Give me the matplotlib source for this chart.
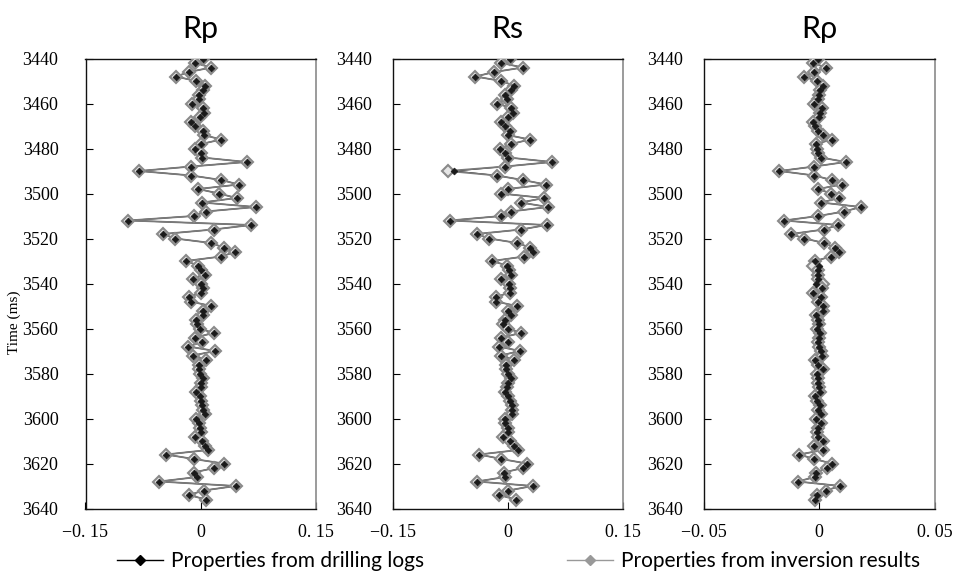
import matplotlib
matplotlib.use("Agg")
import matplotlib.pyplot as plt
from matplotlib.lines import Line2D

# Time samples (ms)
time_ms = list(range(3440, 3638, 2))

titles = ["Rp", "Rs", "Rρ"]
xlims = [(-0.15, 0.15), (-0.15, 0.15), (-0.05, 0.05)]
xtick_vals = [[-0.15, 0, 0.15], [-0.15, 0, 0.15], [-0.05, 0, 0.05]]
xtick_labels = [["−0. 15", "0", "0. 15"], ["−0. 15", "0", "0. 15"], ["−0. 05", "0", "0. 05"]]
ytick_vals = [3440, 3460, 3480, 3500, 3520, 3540, 3560, 3580, 3600, 3620, 3640]
legend_labels = ["Properties from drilling logs", "Properties from inversion results"]

rp_logs = [0.003, -0.007, 0.014, -0.015, -0.032, -0.006, 0.006, 0.003, -0.002, -0.002,
           -0.011, 0.003, 0.004, -0.001, -0.012, -0.007, 0.003, 0.004, 0.027, 0.001,
           -0.007, 0.001, 0.002, 0.060, -0.012, -0.080, -0.012, 0.027, 0.050, -0.003,
           0.024, 0.047, 0.002, 0.072, 0.007, -0.009, -0.094, 0.066, 0.017, -0.049,
           -0.033, 0.014, 0.030, 0.045, 0.027, -0.019, -0.003, 0.000, 0.006, -0.010,
           0.001, 0.003, 0.001, -0.015, -0.013, 0.014, 0.003, 0.003, -0.006, -0.004,
           -0.001, 0.017, -0.007, 0.002, -0.016, 0.019, -0.010, 0.007, -0.002, -0.002,
           -0.001, 0.003, 0.000, 0.000, -0.006, -0.001, 0.001, 0.002, 0.003, 0.006,
           -0.006, -0.002, -0.001, 0.001, -0.007, 0.002, 0.006, 0.010, -0.045, -0.009,
           0.030, 0.018, -0.009, -0.004, -0.054, 0.046, 0.004, -0.015, 0.007]
rp_inv = [0.003, -0.007, 0.014, -0.015, -0.032, -0.006, 0.006, 0.003, -0.002, -0.002,
          -0.011, 0.003, 0.004, -0.001, -0.012, -0.007, 0.003, 0.004, 0.027, 0.001,
          -0.007, 0.001, 0.002, 0.060, -0.012, -0.080, -0.012, 0.027, 0.050, -0.003,
          0.024, 0.047, 0.002, 0.072, 0.007, -0.009, -0.094, 0.066, 0.017, -0.049,
          -0.033, 0.014, 0.030, 0.045, 0.027, -0.019, -0.003, 0.000, 0.006, -0.010,
          0.001, 0.003, 0.001, -0.015, -0.013, 0.014, 0.003, 0.003, -0.006, -0.004,
          -0.001, 0.017, -0.007, 0.002, -0.016, 0.019, -0.010, 0.007, -0.002, -0.002,
          -0.001, 0.003, 0.000, 0.000, -0.006, -0.001, 0.001, 0.002, 0.003, 0.006,
          -0.006, -0.002, -0.001, 0.001, -0.007, 0.002, 0.006, 0.010, -0.045, -0.009,
          0.030, 0.018, -0.009, -0.004, -0.054, 0.046, 0.004, -0.015, 0.007]

rs_logs = [0.003, -0.008, 0.020, -0.017, -0.042, -0.008, 0.008, 0.005, -0.003, -0.001,
           -0.014, 0.005, 0.007, 0.000, -0.009, -0.003, 0.003, 0.000, 0.029, 0.005,
           -0.010, -0.003, 0.001, 0.058, -0.003, -0.070, -0.014, 0.020, 0.050, 0.000,
           -0.009, 0.048, 0.017, 0.053, 0.004, -0.008, -0.075, 0.051, 0.018, -0.040,
           -0.024, 0.013, 0.029, 0.033, 0.022, -0.020, -0.001, 0.002, 0.004, -0.008,
           0.002, 0.003, 0.003, -0.015, -0.015, 0.012, 0.000, 0.005, -0.003, -0.006,
           0.000, 0.018, -0.008, 0.000, -0.011, 0.016, -0.009, 0.009, -0.002, -0.002,
           0.000, 0.004, 0.001, -0.001, -0.003, 0.000, 0.003, 0.006, 0.006, 0.006,
           -0.003, -0.003, 0.000, 0.000, -0.006, 0.003, 0.008, 0.014, -0.037, -0.008,
           0.025, 0.020, -0.005, -0.003, -0.040, 0.033, 0.001, -0.011, 0.011]
rs_inv = [0.003, -0.008, 0.020, -0.017, -0.042, -0.008, 0.008, 0.005, -0.003, -0.001,
          -0.014, 0.005, 0.007, 0.000, -0.009, -0.003, 0.003, 0.000, 0.029, 0.005,
          -0.010, -0.003, 0.001, 0.058, -0.003, -0.078, -0.014, 0.020, 0.050, 0.000,
          -0.009, 0.048, 0.017, 0.053, 0.004, -0.008, -0.075, 0.051, 0.018, -0.040,
          -0.024, 0.013, 0.029, 0.033, 0.022, -0.020, -0.001, 0.002, 0.004, -0.008,
          0.002, 0.003, 0.003, -0.015, -0.015, 0.012, 0.000, 0.005, -0.003, -0.006,
          0.000, 0.018, -0.008, 0.000, -0.011, 0.016, -0.009, 0.009, -0.002, -0.002,
          0.000, 0.004, 0.001, -0.001, -0.003, 0.000, 0.003, 0.006, 0.006, 0.006,
          -0.003, -0.003, 0.000, 0.000, -0.006, 0.003, 0.008, 0.014, -0.037, -0.008,
          0.025, 0.020, -0.005, -0.003, -0.040, 0.033, 0.001, -0.011, 0.011]

rrho_logs = [-0.0003, -0.0025, 0.0029, -0.0020, -0.0065, -0.0010, 0.0019, 0.0004, 0.0001, -0.0006,
             -0.0020, 0.0012, 0.0004, 0.0001, -0.0025, -0.0017, -0.0006, 0.0019, 0.0055, -0.0013,
             -0.0010, -0.0003, 0.0007, 0.0116, -0.0020, -0.0171, -0.0020, 0.0055, 0.0098, -0.0003,
             0.0052, 0.0088, 0.0009, 0.0181, 0.0109, -0.0003, -0.0151, 0.0083, 0.0022, -0.0122,
             -0.0063, 0.0023, 0.0069, 0.0086, 0.0052, -0.0017, 0.0001, -0.0003, -0.0006, -0.0003,
             -0.0013, 0.0012, -0.0025, 0.0009, -0.0003, 0.0016, 0.0019, -0.0013, -0.0006, 0.0001,
             -0.0010, 0.0004, 0.0001, -0.0003, 0.0001, 0.0009, 0.0012, -0.0017, -0.0006, 0.0019,
             -0.0010, -0.0006, -0.0006, 0.0001, 0.0004, -0.0017, -0.0010, 0.0004, -0.0003, 0.0007,
             -0.0013, 0.0009, -0.0003, -0.0010, -0.0003, 0.0019, -0.0020, 0.0019, -0.0086, -0.0020,
             0.0055, 0.0033, -0.0013, -0.0017, -0.0093, 0.0093, 0.0029, -0.0010, -0.0017]
rrho_inv = [-0.0003, -0.0025, 0.0029, -0.0020, -0.0065, -0.0010, 0.0019, 0.0004, 0.0001, -0.0006,
            -0.0020, 0.0012, 0.0004, 0.0001, -0.0025, -0.0017, -0.0006, 0.0019, 0.0055, -0.0013,
            -0.0010, -0.0003, 0.0007, 0.0116, -0.0020, -0.0171, -0.0020, 0.0055, 0.0098, -0.0003,
            0.0052, 0.0088, 0.0009, 0.0181, 0.0109, -0.0003, -0.0151, 0.0083, 0.0022, -0.0122,
            -0.0063, 0.0023, 0.0069, 0.0086, 0.0052, -0.0017, -0.0027, -0.0003, -0.0006, -0.0003,
            0.0016, 0.0012, -0.0025, 0.0009, -0.0003, 0.0016, 0.0019, -0.0013, -0.0006, 0.0001,
            -0.0010, 0.0004, 0.0001, -0.0003, 0.0001, 0.0009, 0.0012, -0.0017, -0.0006, 0.0019,
            -0.0010, -0.0006, -0.0006, 0.0001, 0.0004, -0.0017, -0.0010, 0.0004, -0.0003, 0.0007,
            -0.0013, 0.0009, -0.0003, -0.0010, -0.0003, 0.0019, -0.0020, 0.0019, -0.0086, -0.0020,
            0.0055, 0.0033, -0.0013, -0.0017, -0.0093, 0.0093, 0.0029, -0.0010, -0.0017]

logs = [rp_logs, rs_logs, rrho_logs]
invs = [rp_inv, rs_inv, rrho_inv]

serif = ["Liberation Serif", "DejaVu Serif"]
sans = ["Lato", "DejaVu Sans"]

fig = plt.figure(figsize=(9.58, 5.76), dpi=100)
lefts_px = [85.5, 392.5, 703.5]
widths_px = [230, 230, 231]
ypads = [19.5, 14.5, 14.5]
top_px, bot_px = 58.5, 508.5
W, H = 958, 576

INV_LINE = "#7a7a7a"
INV_EDGE = "#8a8a8a"

for i in range(3):
    ax = fig.add_axes([lefts_px[i] / W, 1 - bot_px / H, widths_px[i] / W, (bot_px - top_px) / H])
    ax.plot(logs[i], time_ms, color="black", lw=0.8, zorder=2)
    ax.plot(invs[i], time_ms, color=INV_LINE, lw=1.3, zorder=3)
    ax.plot(invs[i], time_ms, ls="none", marker="D", ms=6, mfc="#e6e6e6",
            mec=INV_EDGE, mew=1.5, zorder=4)
    ax.plot(logs[i], time_ms, ls="none", marker="D", ms=3.5, mfc="#1a1a1a",
            mec="#1a1a1a", mew=0.5, zorder=5)
    ax.set_xlim(*xlims[i])
    ax.set_ylim(3640, 3440)
    ax.set_xticks(xtick_vals[i])
    ax.set_xticklabels(xtick_labels[i], family=serif, fontsize=13)
    ax.set_yticks(ytick_vals)
    ax.set_yticklabels([str(v) for v in ytick_vals], family=serif, fontsize=13)
    ax.tick_params(direction="in", length=5, width=0.8)
    ax.tick_params(axis="y", pad=ypads[i])
    ax.tick_params(axis="x", pad=11)
    for s in ["left", "top", "bottom"]:
        ax.spines[s].set_color("#111111")
        ax.spines[s].set_linewidth(1.0)
    ax.spines["right"].set_color("#8a8a8a")
    ax.spines["right"].set_linewidth(1.2)
    ax.set_title(titles[i], family=sans, fontsize=22, pad=14.5)

fig.text(14 / W, 1 - 322 / H, "Time (ms)", family=serif, fontsize=11,
         rotation=90, ha="center", va="center")

h_logs = Line2D([], [], color="black", lw=1.0, marker="D", ms=5, mfc="black", mec="black")
h_inv = Line2D([], [], color="#999999", lw=1.0, marker="D", ms=5, mfc="#999999", mec="#999999")
for h, lab, x0 in [(h_logs, legend_labels[0], 117), (h_inv, legend_labels[1], 567)]:
    fig.legend([h], [lab], loc="center left", bbox_to_anchor=(x0 / W, 1 - 561 / H),
               frameon=False, prop={"family": sans, "size": 15},
               handlelength=2.2, handletextpad=0.4, borderpad=0, borderaxespad=0)

fig.savefig("out.png", dpi=100)
